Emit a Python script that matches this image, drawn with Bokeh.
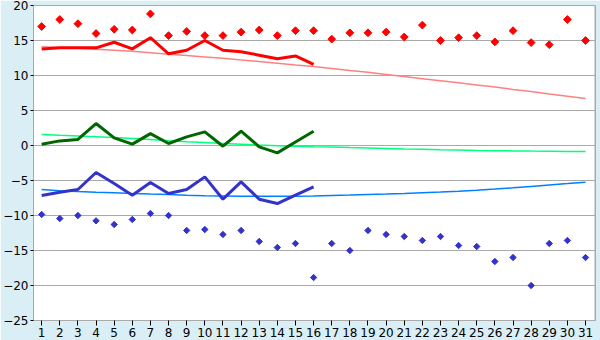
from bokeh.plotting import figure
from bokeh.models import ColumnDataSource, FixedTicker, Span
from bokeh.embed import file_html
from bokeh.resources import INLINE

days = list(range(1, 32))
days16 = list(range(1, 17))

max_record = [17.0, 18.0, 17.4, 16.0, 16.6, 16.5, 18.8, 15.7, 16.3, 15.7, 15.7, 16.2, 16.5, 15.7, 16.4, 16.4,
              15.2, 16.1, 16.1, 16.2, 15.5, 17.2, 15.0, 15.4, 15.7, 14.8, 16.4, 14.7, 14.4, 18.0, 15.0]
max_actual = [13.8, 13.95, 13.95, 13.95, 14.75, 13.8, 15.4, 13.1, 13.6, 15.0, 13.6, 13.4, 12.9, 12.4, 12.8, 11.6]
max_normal = [14.1, 14.0, 13.9, 13.75, 13.6, 13.45, 13.25, 13.05, 12.85, 12.65, 12.45, 12.2, 12.0, 11.75, 11.5, 11.3,
              11.0, 10.7, 10.45, 10.15, 9.85, 9.55, 9.25, 8.95, 8.65, 8.35, 8.0, 7.7, 7.35, 7.05, 6.7]

mean_actual = [0.19, 0.66, 0.86, 3.14, 1.09, 0.19, 1.7, 0.29, 1.23, 1.94, -0.1, 2.04, -0.19, -1.05, 0.51, 2.04]
mean_normal = [1.57, 1.45, 1.35, 1.25, 1.14, 1.0, 0.85, 0.68, 0.52, 0.42, 0.3, 0.19, 0.08, -0.02, -0.1, -0.17,
               -0.23, -0.29, -0.34, -0.42, -0.5, -0.55, -0.61, -0.66, -0.71, -0.74, -0.77, -0.8, -0.82, -0.84, -0.86]

min_actual = [-7.14, -6.67, -6.29, -3.86, -5.43, -7.1, -5.29, -6.86, -6.29, -4.48, -7.67, -5.2, -7.67, -8.29, -7.1, -5.9]
min_normal = [-6.29, -6.45, -6.58, -6.68, -6.76, -6.86, -6.94, -7.0, -7.1, -7.18, -7.22, -7.25, -7.26, -7.26, -7.24, -7.2,
              -7.14, -7.08, -7.0, -6.94, -6.86, -6.75, -6.64, -6.52, -6.38, -6.22, -6.05, -5.84, -5.63, -5.44, -5.24]
min_record = [-9.86, -10.43, -10.0, -10.76, -11.29, -10.57, -9.71, -10.0, -12.14, -12.0, -12.71, -12.14, -13.71, -14.57,
              -14.0, -18.86, -14.0, -15.0, -12.14, -12.71, -13.0, -13.57, -13.0, -14.29, -14.43, -16.57, -16.0, -20.0,
              -14.0, -13.57, -16.0]

y_ticks = [-25, -20, -15, -10, -5, 0, 5, 10, 15, 20]

BG = "#daeef5"
GRID = "#aaaaaa"
FONT = "DejaVu Sans"

p = figure(width=600, height=340, output_backend="svg", toolbar_location=None,
           x_range=(0.55, 31.55), y_range=(-25, 20))
p.min_border_left = 27
p.min_border_right = 5
p.min_border_top = 5
p.min_border_bottom = 20
p.background_fill_color = "white"
p.border_fill_color = BG
p.outline_line_color = GRID
p.outline_line_width = 1

p.xgrid.visible = False
p.ygrid.grid_line_color = GRID
p.ygrid.grid_line_width = 1

p.xaxis.ticker = FixedTicker(ticks=days)
p.yaxis.ticker = FixedTicker(ticks=y_ticks)
for ax in (p.xaxis[0], p.yaxis[0]):
    ax.axis_line_color = GRID
    ax.major_tick_line_color = "black"
    ax.minor_tick_line_color = None
    ax.major_tick_in = 0
    ax.major_label_text_font = FONT
    ax.major_label_text_font_size = "12px"
    ax.major_label_text_color = "black"
    ax.major_label_standoff = 2
p.xaxis.major_tick_out = 5
p.yaxis.major_tick_out = 3

# right-side frame shadow
p.add_layout(Span(location=31.55, dimension="height", line_color=GRID, line_width=2))

# normals (thin lines)
p.line(days, max_normal, line_color="#ff8080", line_width=1.5)
p.line(days, mean_normal, line_color="#00ff80", line_width=1.5)
p.line(days, min_normal, line_color="#0080ff", line_width=1.5)

# actual values (thick lines)
p.line(days16, max_actual, line_color="#ff0000", line_width=3)
p.line(days16, mean_actual, line_color="#006600", line_width=3)
p.line(days16, min_actual, line_color="#3333cc", line_width=3)

# records (markers: small square diamonds)
p.scatter(days, max_record, marker="square", angle=0.785398, size=5.5, fill_color="#ff0000", line_color="#ff0000")
p.scatter(days, min_record, marker="square", angle=0.785398, size=4.5, fill_color="#3333cc", line_color="#3333cc")

open("out.html", "w").write(file_html(p, INLINE))
